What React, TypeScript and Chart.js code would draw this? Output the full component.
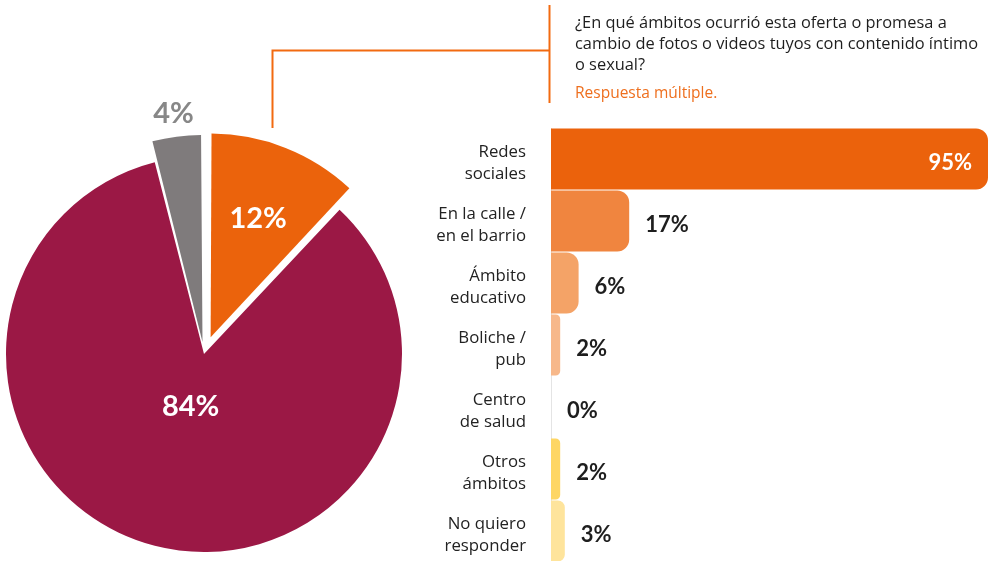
import React, { useEffect, useRef } from 'react';
import { Chart, registerables } from 'chart.js';

Chart.register(...registerables);

// ---------- DATA ----------
const pieLabels = ['Sí', 'No', 'No quiero responder'];
const pieValues = [12, 84, 4];
const pieColors = ['#EB630C', '#9B1845', '#7F7B7C'];

const barCategories = [
  ['Redes', 'sociales'],
  ['En la calle /', 'en el barrio'],
  ['Ámbito', 'educativo'],
  ['Boliche /', 'pub'],
  ['Centro', 'de salud'],
  ['Otros', 'ámbitos'],
  ['No quiero', 'responder'],
];
const barValues = [95, 17, 6, 2, 0, 2, 3];
const barColors = ['#EB620C', '#F0853F', '#F4A367', '#F7B88A', '#F7C7A3', '#FED664', '#FEE49C'];

const titleLines = [
  '¿En qué ámbitos ocurrió esta oferta o promesa a',
  'cambio de fotos o videos tuyos con contenido íntimo',
  'o sexual?',
];
const subtitle = 'Respuesta múltiple.';

// ---------- PLUGINS ----------
const pieLabelPlugin = {
  id: 'pieLabels',
  afterDatasetsDraw(chart: any) {
    const ctx = chart.ctx;
    const meta = chart.getDatasetMeta(0);
    const radial = [0.742, 0.271, 1.231];
    const colors = ['#ffffff', '#ffffff', '#878787'];
    ctx.save();
    ctx.font = 'bold 29px Lato';
    ctx.textAlign = 'center';
    ctx.textBaseline = 'alphabetic';
    meta.data.forEach((arc: any, i: number) => {
      const p = arc.getProps(['x', 'y', 'startAngle', 'endAngle', 'outerRadius'], true);
      const mid = (p.startAngle + p.endAngle) / 2;
      const d = p.outerRadius * radial[i];
      const lx = p.x + Math.cos(mid) * d;
      const ly = p.y + Math.sin(mid) * d;
      ctx.fillStyle = colors[i];
      ctx.fillText(pieValues[i] + '%', lx, ly + 10.5);
    });
    ctx.restore();
  },
};

const barLabelPlugin = {
  id: 'barLabels',
  afterDatasetsDraw(chart: any) {
    const ctx = chart.ctx;
    const meta = chart.getDatasetMeta(0);
    ctx.save();
    ctx.font = 'bold 22px Lato';
    ctx.textBaseline = 'alphabetic';
    meta.data.forEach((bar: any, i: number) => {
      const p = bar.getProps(['x', 'y'], true);
      const v = barValues[i];
      const txt = v + '%';
      if (v > 50) {
        ctx.textAlign = 'right';
        ctx.fillStyle = '#ffffff';
        ctx.fillText(txt, p.x - 16, p.y + 11);
      } else {
        ctx.textAlign = 'left';
        ctx.fillStyle = '#1e1e1e';
        ctx.fillText(txt, p.x + 16, p.y + 11);
      }
    });
    ctx.restore();
  },
};

export default function App() {
  const pieRef = useRef<HTMLCanvasElement>(null);
  const barRef = useRef<HTMLCanvasElement>(null);

  useEffect(() => {
    const pie = new Chart(pieRef.current as HTMLCanvasElement, {
      type: 'pie',
      data: {
        labels: pieLabels,
        datasets: [
          {
            data: pieValues,
            backgroundColor: pieColors,
            borderWidth: 0,
            offset: [72, 0, 48],
            clip: false,
          } as any,
        ],
      },
      options: {
        animation: false,
        responsive: false,
        events: [],
        radius: 198,
        layout: { padding: { top: 147, left: 0, right: 12, bottom: 0 } },
        plugins: { legend: { display: false }, tooltip: { enabled: false } },
      } as any,
      plugins: [pieLabelPlugin],
    });

    const bar = new Chart(barRef.current as HTMLCanvasElement, {
      type: 'bar',
      data: {
        labels: barCategories,
        datasets: [
          {
            data: barValues,
            backgroundColor: barColors,
            borderWidth: 0,
            borderRadius: 12,
            borderSkipped: 'start',
            barPercentage: 0.985,
            categoryPercentage: 1,
          } as any,
        ],
      },
      options: {
        animation: false,
        responsive: false,
        events: [],
        indexAxis: 'y',
        layout: { padding: { top: 128, bottom: 18, left: 0, right: 0 } },
        scales: {
          x: { display: false, min: 0, max: 100 },
          y: {
            afterFit: (scale: any) => {
              scale.width = 551;
              scale.paddingTop = 0;
              scale.paddingBottom = 0;
            },
            grid: { display: false, drawTicks: false },
            border: { display: true, color: '#e4e4e4', width: 1 },
            ticks: {
              padding: 25,
              color: '#222222',
              font: { family: '"Open Sans"', size: 16.8, lineHeight: 1.3 },
              labelOffset: 4,
            },
          },
        },
        plugins: { legend: { display: false }, tooltip: { enabled: false } },
      } as any,
      plugins: [barLabelPlugin],
    });

    return () => {
      pie.destroy();
      bar.destroy();
    };
  }, []);

  return (
    <div
      style={{
        position: 'fixed',
        left: 0,
        top: 0,
        width: 990,
        height: 561,
        overflow: 'hidden',
        background: '#ffffff',
      }}
    >
      <canvas
        ref={barRef}
        width={1011}
        height={580}
        style={{ position: 'absolute', left: 0, top: 0, width: 1011, height: 580 }}
      />
      <canvas
        ref={pieRef}
        width={420}
        height={561}
        style={{ position: 'absolute', left: 0, top: 0, width: 420, height: 561 }}
      />
      <svg
        width={990}
        height={561}
        style={{ position: 'absolute', left: 0, top: 0, pointerEvents: 'none' }}
      >
        <polyline
          points="272.5,128 272.5,50.5 549.5,50.5"
          fill="none"
          stroke="#F26A10"
          strokeWidth={2}
        />
        <line x1={549.5} y1={5} x2={549.5} y2={103} stroke="#F26A10" strokeWidth={2} />
      </svg>
      <div
        style={{
          position: 'absolute',
          left: 575,
          top: 11,
          width: 410,
          fontFamily: '"Open Sans"',
          fontSize: 16.4,
          lineHeight: '21px',
          color: '#1e1e1e',
          whiteSpace: 'nowrap',
        }}
      >
        {titleLines.map((l, i) => (
          <div key={i}>{l}</div>
        ))}
      </div>
      <div
        style={{
          position: 'absolute',
          left: 575,
          top: 82,
          fontFamily: '"Open Sans"',
          fontSize: 15.5,
          lineHeight: '20px',
          color: '#EE6F1E',
          whiteSpace: 'nowrap',
        }}
      >
        {subtitle}
      </div>
    </div>
  );
}
